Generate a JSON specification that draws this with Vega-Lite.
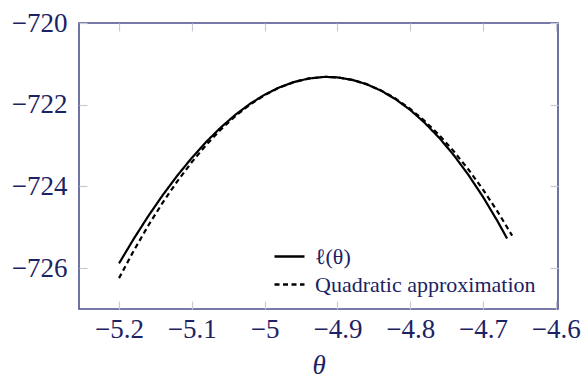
{
  "$schema": "https://vega.github.io/schema/vega-lite/v6.json",
  "width": 479,
  "height": 286,
  "autosize": {"type": "none"},
  "padding": {"left": 79, "top": 23, "right": 27, "bottom": 70},
  "background": "white",
  "config": {
    "view": {"stroke": "#4b4f8c", "strokeWidth": 1.6},
    "font": "Liberation Serif, Times New Roman, serif",
    "axis": {
      "domain": false,
      "grid": false,
      "tickColor": "#c9c9d2",
      "tickSize": -8,
      "tickWidth": 1.2,
      "labelFont": "Liberation Serif, Times New Roman, serif",
      "labelFontSize": 27,
      "labelColor": "#1c2262",
      "labelFlush": false,
      "labelOverlap": false,
      "titleFont": "Liberation Serif, Times New Roman, serif",
      "titleColor": "#1c2262"
    }
  },
  "data": {
    "values": [
      {"theta": -5.2, "ll": -725.884, "series": "ℓ(θ)"},
      {"theta": -5.18, "ll": -725.288, "series": "ℓ(θ)"},
      {"theta": -5.16, "ll": -724.73, "series": "ℓ(θ)"},
      {"theta": -5.14, "ll": -724.213, "series": "ℓ(θ)"},
      {"theta": -5.12, "ll": -723.736, "series": "ℓ(θ)"},
      {"theta": -5.1, "ll": -723.3, "series": "ℓ(θ)"},
      {"theta": -5.08, "ll": -722.905, "series": "ℓ(θ)"},
      {"theta": -5.06, "ll": -722.553, "series": "ℓ(θ)"},
      {"theta": -5.04, "ll": -722.243, "series": "ℓ(θ)"},
      {"theta": -5.02, "ll": -721.977, "series": "ℓ(θ)"},
      {"theta": -5.0, "ll": -721.755, "series": "ℓ(θ)"},
      {"theta": -4.98, "ll": -721.577, "series": "ℓ(θ)"},
      {"theta": -4.96, "ll": -721.446, "series": "ℓ(θ)"},
      {"theta": -4.94, "ll": -721.36, "series": "ℓ(θ)"},
      {"theta": -4.92, "ll": -721.322, "series": "ℓ(θ)"},
      {"theta": -4.914, "ll": -721.32, "series": "ℓ(θ)"},
      {"theta": -4.9, "ll": -721.332, "series": "ℓ(θ)"},
      {"theta": -4.88, "ll": -721.39, "series": "ℓ(θ)"},
      {"theta": -4.86, "ll": -721.498, "series": "ℓ(θ)"},
      {"theta": -4.84, "ll": -721.657, "series": "ℓ(θ)"},
      {"theta": -4.82, "ll": -721.867, "series": "ℓ(θ)"},
      {"theta": -4.8, "ll": -722.128, "series": "ℓ(θ)"},
      {"theta": -4.78, "ll": -722.444, "series": "ℓ(θ)"},
      {"theta": -4.76, "ll": -722.814, "series": "ℓ(θ)"},
      {"theta": -4.74, "ll": -723.238, "series": "ℓ(θ)"},
      {"theta": -4.72, "ll": -723.719, "series": "ℓ(θ)"},
      {"theta": -4.7, "ll": -724.257, "series": "ℓ(θ)"},
      {"theta": -4.68, "ll": -724.853, "series": "ℓ(θ)"},
      {"theta": -4.667, "ll": -725.273, "series": "ℓ(θ)"},
      {"theta": -5.2, "ll": -726.244, "series": "Quadratic approximation"},
      {"theta": -5.18, "ll": -725.58, "series": "Quadratic approximation"},
      {"theta": -5.16, "ll": -724.963, "series": "Quadratic approximation"},
      {"theta": -5.14, "ll": -724.395, "series": "Quadratic approximation"},
      {"theta": -5.12, "ll": -723.875, "series": "Quadratic approximation"},
      {"theta": -5.1, "ll": -723.403, "series": "Quadratic approximation"},
      {"theta": -5.08, "ll": -722.979, "series": "Quadratic approximation"},
      {"theta": -5.06, "ll": -722.603, "series": "Quadratic approximation"},
      {"theta": -5.04, "ll": -722.276, "series": "Quadratic approximation"},
      {"theta": -5.02, "ll": -721.996, "series": "Quadratic approximation"},
      {"theta": -5.0, "ll": -721.765, "series": "Quadratic approximation"},
      {"theta": -4.98, "ll": -721.582, "series": "Quadratic approximation"},
      {"theta": -4.96, "ll": -721.447, "series": "Quadratic approximation"},
      {"theta": -4.94, "ll": -721.361, "series": "Quadratic approximation"},
      {"theta": -4.92, "ll": -721.322, "series": "Quadratic approximation"},
      {"theta": -4.914, "ll": -721.32, "series": "Quadratic approximation"},
      {"theta": -4.9, "ll": -721.332, "series": "Quadratic approximation"},
      {"theta": -4.88, "ll": -721.39, "series": "Quadratic approximation"},
      {"theta": -4.86, "ll": -721.496, "series": "Quadratic approximation"},
      {"theta": -4.84, "ll": -721.65, "series": "Quadratic approximation"},
      {"theta": -4.82, "ll": -721.852, "series": "Quadratic approximation"},
      {"theta": -4.8, "ll": -722.102, "series": "Quadratic approximation"},
      {"theta": -4.78, "ll": -722.401, "series": "Quadratic approximation"},
      {"theta": -4.76, "ll": -722.748, "series": "Quadratic approximation"},
      {"theta": -4.74, "ll": -723.143, "series": "Quadratic approximation"},
      {"theta": -4.72, "ll": -723.586, "series": "Quadratic approximation"},
      {"theta": -4.7, "ll": -724.077, "series": "Quadratic approximation"},
      {"theta": -4.68, "ll": -724.616, "series": "Quadratic approximation"},
      {"theta": -4.66, "ll": -725.204, "series": "Quadratic approximation"}
    ]
  },
  "layer": [
    {
      "mark": {"type": "line", "color": "black", "strokeWidth": 2.2, "clip": true},
      "encoding": {
        "x": {
          "field": "theta",
          "type": "quantitative",
          "scale": {"domain": [-5.255, -4.597], "nice": false, "zero": false},
          "axis": {
            "orient": "bottom",
            "values": [-5.2, -5.1, -5, -4.9, -4.8, -4.7, -4.6],
            "format": ".1~f",
            "labelPadding": 15,
            "title": "θ",
            "titleFontSize": 27,
            "titleFontStyle": "italic",
            "titleFontWeight": "normal",
            "titlePadding": 10
          }
        },
        "y": {
          "field": "ll",
          "type": "quantitative",
          "scale": {"domain": [-727, -720], "nice": false, "zero": false},
          "axis": {
            "orient": "left",
            "values": [-726, -724, -722, -720],
            "format": "d",
            "labelPadding": 20,
            "title": null
          }
        },
        "strokeDash": {
          "field": "series",
          "type": "nominal",
          "scale": {
            "domain": ["ℓ(θ)", "Quadratic approximation"],
            "range": [[1, 0], [5, 3.5]]
          },
          "legend": {
            "orient": "none",
            "legendX": 194,
            "legendY": 217,
            "title": null,
            "padding": 0,
            "symbolType": "stroke",
            "symbolSize": 900,
            "symbolStrokeWidth": 2.5,
            "symbolStrokeColor": "black",
            "labelFont": "Liberation Serif, Times New Roman, serif",
            "labelFontSize": 22,
            "labelLimit": 0,
            "labelColor": "#1c2262",
            "labelOffset": 9,
            "rowPadding": -7
          }
        }
      }
    },
    {
      "mark": {"type": "line", "opacity": 0},
      "encoding": {
        "x": {
          "field": "theta",
          "type": "quantitative",
          "axis": {
            "orient": "top",
            "values": [-5.2, -5.1, -5, -4.9, -4.8, -4.7, -4.6],
            "labels": false,
            "title": null
          }
        },
        "y": {
          "field": "ll",
          "type": "quantitative",
          "axis": {
            "orient": "right",
            "values": [-726, -724, -722, -720],
            "labels": false,
            "title": null
          }
        }
      }
    }
  ],
  "resolve": {"axis": {"x": "independent", "y": "independent"}}
}
